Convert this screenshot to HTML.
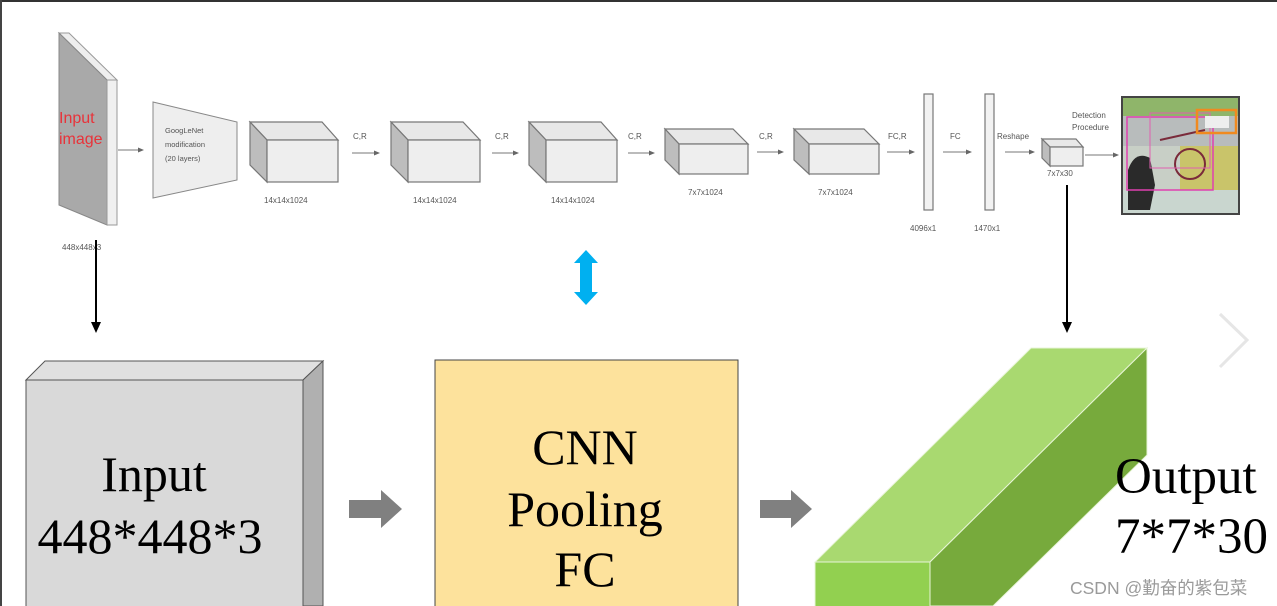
<!DOCTYPE html>
<html><head><meta charset="utf-8"><style>
html,body{margin:0;padding:0;background:#fff;}
svg{display:block;}
</style></head><body>
<svg width="1277" height="606" viewBox="0 0 1277 606" xmlns="http://www.w3.org/2000/svg">
<defs>
<marker id="ah" markerWidth="6" markerHeight="6" refX="5" refY="3" orient="auto"><path d="M0,0.5 L6,3 L0,5.5z" fill="#666"/></marker>
</defs>
<rect x="0" y="0" width="1277" height="606" fill="#fff"/>
<rect x="0" y="0" width="1277" height="2" fill="#333"/>
<rect x="0" y="0" width="2" height="606" fill="#444"/>

<!-- input slab -->
<polygon points="59,33 69,33 117,80 107,80" fill="#eee" stroke="#999" stroke-width="1"/>
<polygon points="59,33 107,80 107,225 59,205" fill="#a9a9a9" stroke="#888" stroke-width="1"/>
<polygon points="107,80 117,80 117,225 107,225" fill="#f0f0f0" stroke="#999" stroke-width="1"/>
<text x="59" y="123" font-family="Liberation Sans,sans-serif" font-size="16" fill="#e8333a">Input</text>
<text x="59" y="144" font-family="Liberation Sans,sans-serif" font-size="16" fill="#e8333a">image</text>
<text x="62" y="250" font-family="Liberation Sans,sans-serif" font-size="8" fill="#555">448x448x3</text>
<line x1="118" y1="150" x2="143" y2="150" stroke="#777" stroke-width="1" marker-end="url(#ah)"/>

<!-- googlenet -->
<polygon points="153,102 237,122 237,180 153,198" fill="#eee" stroke="#888"/>
<text x="165" y="133" font-family="Liberation Sans,sans-serif" font-size="7.5" fill="#555">GoogLeNet</text>
<text x="165" y="147" font-family="Liberation Sans,sans-serif" font-size="7.5" fill="#555">modification</text>
<text x="165" y="161" font-family="Liberation Sans,sans-serif" font-size="7.5" fill="#555">(20 layers)</text>

<g stroke="#777" stroke-width="1.2">
<polygon points="250,122 322,122 338,140 267,140" fill="#e8e8e8"/>
<polygon points="250,122 267,140 267,182 250,165" fill="#bdbdbd"/>
<rect x="267" y="140" width="71" height="42" fill="#eee"/>
<polygon points="391,122 463,122 480,140 408,140" fill="#e8e8e8"/>
<polygon points="391,122 408,140 408,182 391,165" fill="#bdbdbd"/>
<rect x="408" y="140" width="72" height="42" fill="#eee"/>
<polygon points="529,122 601,122 617,140 546,140" fill="#e8e8e8"/>
<polygon points="529,122 546,140 546,182 529,165" fill="#bdbdbd"/>
<rect x="546" y="140" width="71" height="42" fill="#eee"/>
<polygon points="665,129 733,129 748,144 679,144" fill="#e8e8e8"/>
<polygon points="665,129 679,144 679,174 665,160" fill="#bdbdbd"/>
<rect x="679" y="144" width="69" height="30" fill="#eee"/>
<polygon points="794,129 864,129 879,144 809,144" fill="#e8e8e8"/>
<polygon points="794,129 809,144 809,174 794,160" fill="#bdbdbd"/>
<rect x="809" y="144" width="70" height="30" fill="#eee"/>
<rect x="924" y="94" width="9" height="116" fill="#f2f2f2"/>
<rect x="985" y="94" width="9" height="116" fill="#f2f2f2"/>
<polygon points="1042,139 1076,139 1083,147 1050,147" fill="#e8e8e8"/>
<polygon points="1042,139 1050,147 1050,166 1042,158" fill="#bdbdbd"/>
<rect x="1050" y="147" width="33" height="19" fill="#eee"/>
</g>

<g stroke="#777" stroke-width="1">
<line x1="352" y1="153" x2="379" y2="153" marker-end="url(#ah)"/>
<line x1="492" y1="153" x2="518" y2="153" marker-end="url(#ah)"/>
<line x1="628" y1="153" x2="654" y2="153" marker-end="url(#ah)"/>
<line x1="757" y1="152" x2="783" y2="152" marker-end="url(#ah)"/>
<line x1="887" y1="152" x2="914" y2="152" marker-end="url(#ah)"/>
<line x1="943" y1="152" x2="971" y2="152" marker-end="url(#ah)"/>
<line x1="1005" y1="152" x2="1034" y2="152" marker-end="url(#ah)"/>
<line x1="1085" y1="155" x2="1118" y2="155" marker-end="url(#ah)"/>
</g>
<g font-family="Liberation Sans,sans-serif" font-size="8" fill="#555">
<text x="353" y="139">C,R</text>
<text x="495" y="139">C,R</text>
<text x="628" y="139">C,R</text>
<text x="759" y="139">C,R</text>
<text x="888" y="139">FC,R</text>
<text x="950" y="139">FC</text>
<text x="997" y="139">Reshape</text>
<text x="1072" y="118">Detection</text>
<text x="1072" y="130">Procedure</text>
<text x="264" y="203">14x14x1024</text>
<text x="413" y="203">14x14x1024</text>
<text x="551" y="203">14x14x1024</text>
<text x="688" y="195">7x7x1024</text>
<text x="818" y="195">7x7x1024</text>
<text x="910" y="231">4096x1</text>
<text x="974" y="231">1470x1</text>
<text x="1047" y="176">7x7x30</text>
</g>

<g>
<rect x="1122" y="97" width="117" height="117" fill="#c8cfc6" stroke="#444" stroke-width="2"/>
<rect x="1123" y="98" width="115" height="18" fill="#8fb56a"/>
<rect x="1123" y="116" width="115" height="30" fill="#b8bcbc"/>
<rect x="1180" y="146" width="58" height="45" fill="#c9c46a"/>
<rect x="1123" y="190" width="115" height="23" fill="#c9d6cf"/>
<path d="M1128,210 L1128,170 Q1135,150 1150,158 L1155,185 L1150,210z" fill="#2a2a2a"/>
<circle cx="1190" cy="164" r="15" fill="none" stroke="#7a2a3a" stroke-width="2"/>
<line x1="1160" y1="140" x2="1205" y2="130" stroke="#7a2a3a" stroke-width="2"/>
<rect x="1127" y="117" width="86" height="73" fill="none" stroke="#e040b0" stroke-width="1.5"/>
<rect x="1150" y="113" width="60" height="55" fill="none" stroke="#e060b0" stroke-width="1"/>
<rect x="1197" y="110" width="39" height="23" fill="none" stroke="#f08a20" stroke-width="2.5"/>
<rect x="1205" y="116" width="24" height="12" fill="#eee"/>
</g>

<line x1="96" y1="240" x2="96" y2="324" stroke="#000" stroke-width="2"/>
<polygon points="91,322 101,322 96,333" fill="#000"/>
<line x1="1067" y1="185" x2="1067" y2="324" stroke="#000" stroke-width="2"/>
<polygon points="1062,322 1072,322 1067,333" fill="#000"/>

<polygon points="586,250 598,263 592,263 592,292 598,292 586,305 574,292 580,292 580,263 574,263" fill="#00b0f0"/>

<polygon points="26,380 45,361 323,361 303,380" fill="#e0e0e0" stroke="#555" stroke-width="1"/>
<polygon points="303,380 323,361 323,606 303,606" fill="#b0b0b0" stroke="#555" stroke-width="1"/>
<rect x="26" y="380" width="277" height="230" fill="#d9d9d9" stroke="#555" stroke-width="1"/>
<text x="154" y="491" text-anchor="middle" font-family="Liberation Serif,serif" font-size="50" fill="#000">Input</text>
<text x="150" y="553" text-anchor="middle" font-family="Liberation Serif,serif" font-size="50" fill="#000">448*448*3</text>

<polygon points="349,500 381,500 381,490 402,509 381,528 381,518 349,518" fill="#808080"/>
<polygon points="760,500 791,500 791,490 812,509 791,528 791,518 760,518" fill="#808080"/>

<rect x="435" y="360" width="303" height="250" fill="#fde29c" stroke="#444" stroke-width="1"/>
<text x="585" y="464" text-anchor="middle" font-family="Liberation Serif,serif" font-size="50" fill="#000">CNN</text>
<text x="585" y="526" text-anchor="middle" font-family="Liberation Serif,serif" font-size="50" fill="#000">Pooling</text>
<text x="585" y="586" text-anchor="middle" font-family="Liberation Serif,serif" font-size="50" fill="#000">FC</text>

<polygon points="1031,348 1147,348 930,562 815,562" fill="#a9d970" stroke="#e8f5d8" stroke-width="1"/>
<polygon points="930,562 1147,348 1147,455 993,606 930,606" fill="#77aa3c" stroke="#e8f5d8" stroke-width="1"/>
<rect x="815" y="562" width="115" height="46" fill="#92d050" stroke="#e8f5d8" stroke-width="1"/>
<text x="1115" y="493" font-family="Liberation Serif,serif" font-size="51" fill="#000">Output</text>
<text x="1115" y="553" font-family="Liberation Serif,serif" font-size="51" fill="#000">7*7*30</text>

<polyline points="1220,314 1247,340 1220,367" fill="none" stroke="#e6e6e6" stroke-width="3"/>

<text x="1070" y="594" font-family="Liberation Sans,'Noto Sans CJK SC',sans-serif" font-size="17.5" fill="#9a9a9a">CSDN @勤奋的紫包菜</text>
</svg>
</body></html>
